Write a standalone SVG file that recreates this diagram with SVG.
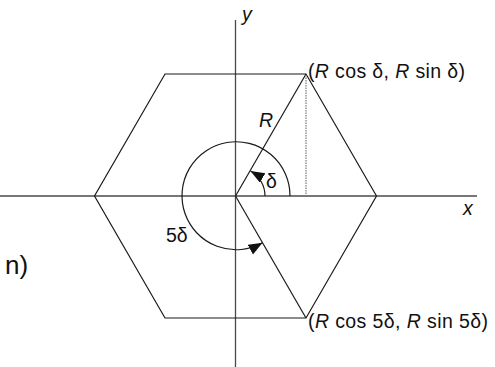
<svg xmlns="http://www.w3.org/2000/svg" width="495" height="367" viewBox="0 0 495 367">
<style>
.axis{stroke:#4a4a4a;stroke-width:1.3;fill:none}
.ln{stroke:#1a1a1a;stroke-width:1.2;fill:none}
.dot{stroke:#777;stroke-width:1.2;stroke-dasharray:1.5 1;fill:none}
.t{font-family:"Liberation Sans",Arial,sans-serif;font-size:19.5px;fill:#111}
.i{font-style:italic}
</style>
<defs>
<marker id="ah" markerUnits="userSpaceOnUse" markerWidth="16" markerHeight="12" refX="14" refY="5.5" orient="auto">
<path d="M0,0 L14,5.5 L0,11 z" fill="#111"/>
</marker>
</defs>
<rect width="495" height="367" fill="#fff"/>
<g id="axes">
<line class="axis" x1="0" y1="196" x2="477" y2="196"/>
<line class="axis" x1="235.5" y1="20" x2="235.5" y2="367"/>
</g>
<g id="hexagon">
<polygon class="ln" points="376.5,196 306,74 165,74 94.5,196 165,318 306,318"/>
</g>
<g id="connectors">
<line class="ln" x1="235.5" y1="196" x2="306" y2="74"/>
<line class="ln" x1="235.5" y1="196" x2="306" y2="318"/>
<line class="dot" x1="306" y1="75" x2="306" y2="196"/>
<path class="ln" d="M265 196 A29 29 0 0 0 250.5 170.9" marker-end="url(#ah)"/>
<path class="ln" d="M290 196 A54 54 0 1 0 262.5 242.8" marker-end="url(#ah)"/>
</g>
<g id="labels">
<text class="t i" x="242" y="21">y</text>
<text class="t i" x="463" y="215">x</text>
<text class="t i" x="259" y="127">R</text>
<text class="t" x="266" y="188">δ</text>
<text class="t" x="166" y="242">5δ</text>
<text class="t" x="308" y="78" textLength="157" lengthAdjust="spacing">(<tspan class="i">R</tspan> cos δ, <tspan class="i">R</tspan> sin δ)</text>
<text class="t" x="308" y="328" textLength="180" lengthAdjust="spacing">(<tspan class="i">R</tspan> cos 5δ, <tspan class="i">R</tspan> sin 5δ)</text>
<text class="t" x="5" y="274" style="font-size:26px">n)</text>
</g>
</svg>
